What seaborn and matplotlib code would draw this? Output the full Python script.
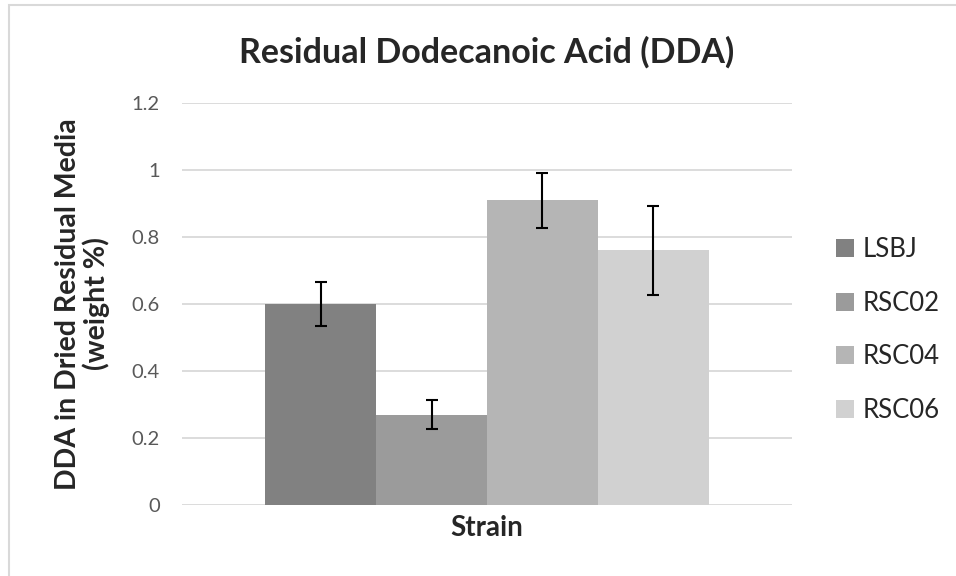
import pandas as pd
import matplotlib.pyplot as plt
import seaborn as sns
from matplotlib.patches import Rectangle

# ── Data ───────────────────────────────────────────────────────────────────────
strains = ['LSBJ', 'RSC02', 'RSC04', 'RSC06']
dda_pct = [0.60, 0.27, 0.91, 0.76]
dda_err = [0.067, 0.042, 0.082, 0.132]
yticks = [0, 0.2, 0.4, 0.6, 0.8, 1.0, 1.2]
ytick_labels = ['0', '0.2', '0.4', '0.6', '0.8', '1', '1.2']

COLORS = ['#818181', '#9b9b9b', '#b5b5b5', '#d1d1d1']

df = pd.DataFrame({'group': [''] * len(strains), 'strain': strains, 'value': dda_pct})

# ── Setup ──────────────────────────────────────────────────────────────────────
sns.set_theme(style='white')
plt.rcParams['font.family'] = ['Lato', 'DejaVu Sans']

fig = plt.figure(figsize=(9.56, 5.76), dpi=100)
ax = fig.add_axes([182 / 956, 1 - 505 / 576, 610 / 956, 402 / 576])

sns.barplot(data=df, x='group', y='value', hue='strain', palette=COLORS,
            width=0.8, gap=0, errorbar=None, saturation=1, linewidth=0,
            ax=ax, legend=True)

for cont, err in zip(ax.containers, dda_err):
    bar = cont.patches[0]
    ax.errorbar(bar.get_x() + bar.get_width() / 2, bar.get_height(), yerr=err,
                fmt='none', ecolor='black', elinewidth=1.5, capsize=4.5, capthick=1.5)

ax.set_xlim(-0.55, 0.55)
ax.set_ylim(0, 1.2)
ax.set_yticks(yticks)
ax.set_yticklabels(ytick_labels)
ax.tick_params(axis='y', length=0, pad=16, labelsize=14.5, labelcolor='#595959')
ax.tick_params(axis='x', length=0, labelsize=1)
ax.set_xticklabels([])
ax.grid(axis='y', color='#d9d9d9', linewidth=1.3)
ax.set_axisbelow(True)
for s in ax.spines.values():
    s.set_visible(False)

ax.set_title('Residual Dodecanoic Acid (DDA)', fontsize=24.5, fontweight='bold', pad=29)
ax.set_xlabel('Strain', fontsize=20, fontweight='bold', labelpad=4)
ax.set_ylabel('DDA in Dried Residual Media\n(weight %)', fontsize=20.5,
              fontweight='bold', linespacing=1.05)
ax.yaxis.set_label_coords(-0.118, 0.5)

ax.legend(loc='center left', bbox_to_anchor=(836 / 956, 1 - 330 / 576),
          bbox_transform=fig.transFigure, frameon=False, fontsize=18.5,
          handlelength=0.7, handleheight=0.7, handletextpad=0.35,
          labelspacing=1.12, borderpad=0, borderaxespad=0)

# chart area border (Excel style)
fig.patches.append(Rectangle((9 / 956, -0.1), 1.2, 1 - 5 / 576 + 0.1,
                             transform=fig.transFigure, fill=False,
                             edgecolor='#d9d9d9', linewidth=1.5))

plt.savefig('out.png', dpi=100)
plt.close()
